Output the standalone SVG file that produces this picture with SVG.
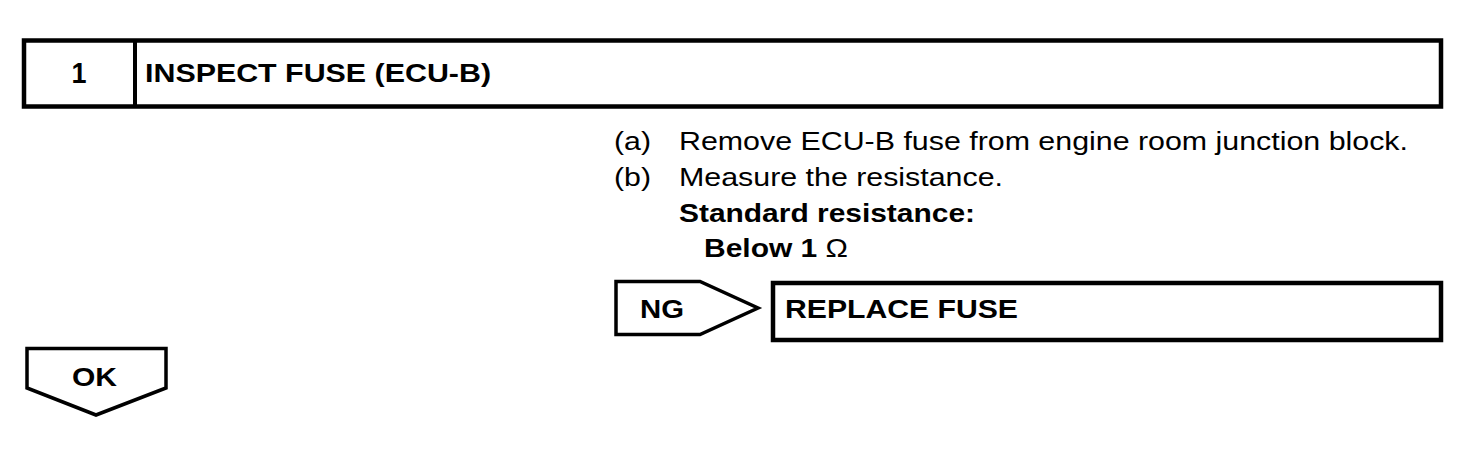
<svg xmlns="http://www.w3.org/2000/svg" width="1472" height="464" viewBox="0 0 1472 464">
<style>
.box{fill:#fff;stroke:#000;stroke-width:4.5}
.t{font-family:"Liberation Sans",Arial,sans-serif;font-size:25px;fill:#000}
.b{font-weight:bold}
</style>
<rect width="1472" height="464" fill="#fff"/>
<g id="step-header">
<rect class="box" x="24" y="40.5" width="1417" height="66"/>
<line x1="135" y1="40.5" x2="135" y2="106.5" stroke="#000" stroke-width="4"/>
<text class="t b" x="79" y="83" text-anchor="middle" style="font-size:29px" textLength="15" lengthAdjust="spacingAndGlyphs">1</text>
<text class="t b" x="145" y="82" textLength="346" lengthAdjust="spacingAndGlyphs">INSPECT FUSE (ECU-B)</text>
</g>
<g id="instructions">
<text class="t" x="614" y="150" textLength="37" lengthAdjust="spacingAndGlyphs">(a)</text>
<text class="t" x="679" y="150" textLength="729" lengthAdjust="spacingAndGlyphs">Remove ECU-B fuse from engine room junction block.</text>
<text class="t" x="614" y="186" textLength="37" lengthAdjust="spacingAndGlyphs">(b)</text>
<text class="t" x="679" y="186" textLength="324" lengthAdjust="spacingAndGlyphs">Measure the resistance.</text>
<text class="t b" x="679" y="222" textLength="296" lengthAdjust="spacingAndGlyphs">Standard resistance:</text>
<text class="t b" x="704" y="257" textLength="144" lengthAdjust="spacingAndGlyphs">Below 1 <tspan font-weight="normal">Ω</tspan></text>
</g>
<g id="connectors">
<g id="ng-arrow">
<polygon points="616,281.5 700,281.5 758,308 700,334.5 616,334.5" fill="#fff" stroke="#000" stroke-width="3.5"/>
<text class="t b" x="640" y="318" textLength="44" lengthAdjust="spacingAndGlyphs">NG</text>
</g>
<g id="ok-arrow">
<polygon points="27,348.5 166,348.5 166,388 96,415 27,388" fill="#fff" stroke="#000" stroke-width="3.5"/>
<text class="t b" x="72" y="386" textLength="45" lengthAdjust="spacingAndGlyphs">OK</text>
</g>
</g>
<g id="replace-fuse">
<rect class="box" x="773" y="283" width="668" height="57"/>
<text class="t b" x="785" y="318" textLength="233" lengthAdjust="spacingAndGlyphs">REPLACE FUSE</text>
</g>
</svg>
